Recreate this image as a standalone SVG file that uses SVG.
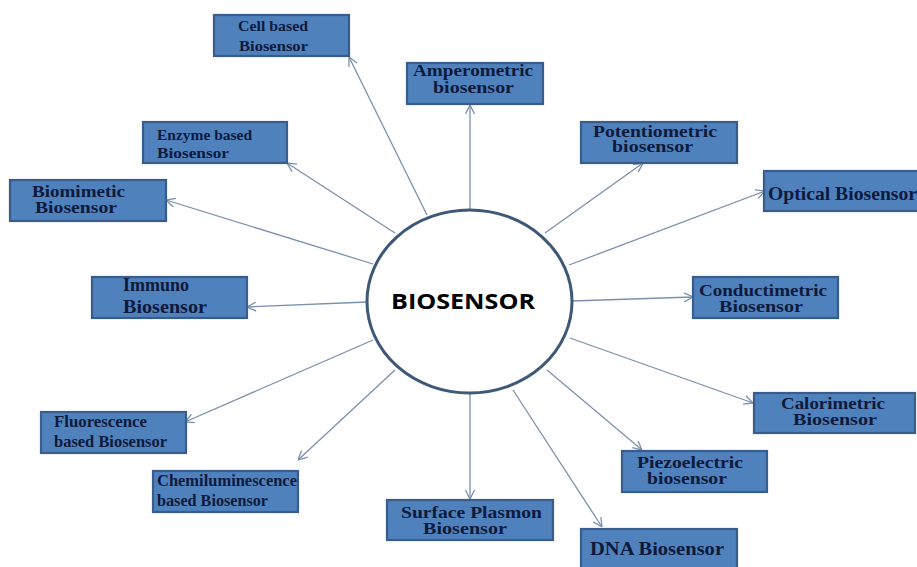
<svg xmlns="http://www.w3.org/2000/svg" width="917" height="567" viewBox="0 0 917 567">
<style>
.box{fill:#4f81bd;stroke:#385d8a;stroke-width:2.2}
.t{font-family:"Liberation Serif","Times New Roman",serif;font-weight:bold;fill:#0e1a3c}
.c{stroke:#7a90ae;stroke-width:1.3;fill:none}
</style>
<defs>
<marker id="ah" markerUnits="userSpaceOnUse" viewBox="0 0 10 10" markerWidth="10" markerHeight="10" refX="10" refY="5" orient="auto">
<path d="M1,0.5 L10,5 L1,9.5" fill="none" stroke="#7a90ae" stroke-width="1.3"/>
</marker>
</defs>
<rect width="917" height="567" fill="#ffffff"/>
<g id="connectors" class="c" marker-end="url(#ah)">
<line x1="427" y1="215" x2="349" y2="57"/>
<line x1="470" y1="210" x2="470" y2="105"/>
<line x1="545" y1="233" x2="643" y2="163"/>
<line x1="569" y1="265" x2="765" y2="191"/>
<line x1="572" y1="301" x2="693" y2="297"/>
<line x1="570" y1="338" x2="753" y2="403"/>
<line x1="547" y1="370" x2="642" y2="450"/>
<line x1="513" y1="390" x2="602" y2="527"/>
<line x1="470" y1="393" x2="470" y2="499"/>
<line x1="395" y1="370" x2="298" y2="460"/>
<line x1="373" y1="340" x2="185" y2="422"/>
<line x1="367" y1="302" x2="247" y2="307"/>
<line x1="373" y1="264" x2="166" y2="200"/>
<line x1="395" y1="233" x2="287" y2="163"/>
</g>
<g id="center">
<ellipse cx="469.5" cy="301.5" rx="102.5" ry="91.5" fill="#ffffff" stroke="#3e5878" stroke-width="3"/>
<text x="391" y="309" font-family="'Open Sans','Liberation Sans',sans-serif" font-weight="bold" font-size="22" fill="#000" textLength="144" lengthAdjust="spacingAndGlyphs">BIOSENSOR</text>
</g>
<g id="cell">
<rect class="box" x="214" y="15" width="135" height="41"/>
<text class="t" x="238" y="31" font-size="15" textLength="70" lengthAdjust="spacingAndGlyphs">Cell based</text>
<text class="t" x="239" y="51" font-size="15" textLength="69" lengthAdjust="spacingAndGlyphs">Biosensor</text>
</g>
<g id="amperometric">
<rect class="box" x="407" y="63" width="136" height="41"/>
<text class="t" x="413" y="76" font-size="16.5" textLength="120" lengthAdjust="spacingAndGlyphs">Amperometric</text>
<text class="t" x="433" y="93" font-size="16.5" textLength="81" lengthAdjust="spacingAndGlyphs">biosensor</text>
</g>
<g id="potentiometric">
<rect class="box" x="581" y="122" width="156" height="41"/>
<text class="t" x="593" y="137" font-size="16" textLength="124" lengthAdjust="spacingAndGlyphs">Potentiometric</text>
<text class="t" x="612" y="152" font-size="16" textLength="81" lengthAdjust="spacingAndGlyphs">biosensor</text>
</g>
<g id="enzyme">
<rect class="box" x="143" y="122" width="144" height="41"/>
<text class="t" x="157" y="140" font-size="14" textLength="95" lengthAdjust="spacingAndGlyphs">Enzyme based</text>
<text class="t" x="157" y="158" font-size="14" textLength="72" lengthAdjust="spacingAndGlyphs">Biosensor</text>
</g>
<g id="biomimetic">
<rect class="box" x="10" y="180" width="156" height="41"/>
<text class="t" x="32" y="197" font-size="17" textLength="93" lengthAdjust="spacingAndGlyphs">Biomimetic</text>
<text class="t" x="35" y="213" font-size="17" textLength="82" lengthAdjust="spacingAndGlyphs">Biosensor</text>
</g>
<g id="optical">
<rect class="box" x="764" y="171" width="160" height="40"/>
<text class="t" x="768" y="200" font-size="19" textLength="149" lengthAdjust="spacingAndGlyphs">Optical Biosensor</text>
</g>
<g id="immuno">
<rect class="box" x="92" y="277" width="155" height="41"/>
<text class="t" x="123" y="291" font-size="19" textLength="66" lengthAdjust="spacingAndGlyphs">Immuno</text>
<text class="t" x="123" y="313" font-size="19" textLength="84" lengthAdjust="spacingAndGlyphs">Biosensor</text>
</g>
<g id="conductimetric">
<rect class="box" x="693" y="277" width="145" height="41"/>
<text class="t" x="699" y="296" font-size="17" textLength="128" lengthAdjust="spacingAndGlyphs">Conductimetric</text>
<text class="t" x="719" y="312" font-size="17" textLength="84" lengthAdjust="spacingAndGlyphs">Biosensor</text>
</g>
<g id="calorimetric">
<rect class="box" x="754" y="393" width="161" height="40"/>
<text class="t" x="781" y="409" font-size="17" textLength="104" lengthAdjust="spacingAndGlyphs">Calorimetric</text>
<text class="t" x="793" y="425" font-size="17" textLength="84" lengthAdjust="spacingAndGlyphs">Biosensor</text>
</g>
<g id="fluorescence">
<rect class="box" x="41" y="412" width="145" height="41"/>
<text class="t" x="54" y="427" font-size="16" textLength="93" lengthAdjust="spacingAndGlyphs">Fluorescence</text>
<text class="t" x="54" y="447" font-size="16" textLength="113" lengthAdjust="spacingAndGlyphs">based Biosensor</text>
</g>
<g id="chemiluminescence">
<rect class="box" x="153" y="471" width="145" height="41"/>
<text class="t" x="157" y="486" font-size="16" textLength="140" lengthAdjust="spacingAndGlyphs">Chemiluminescence</text>
<text class="t" x="157" y="506" font-size="16" textLength="111" lengthAdjust="spacingAndGlyphs">based Biosensor</text>
</g>
<g id="piezoelectric">
<rect class="box" x="622" y="451" width="145" height="41"/>
<text class="t" x="637" y="468" font-size="17" textLength="106" lengthAdjust="spacingAndGlyphs">Piezoelectric</text>
<text class="t" x="647" y="484" font-size="17" textLength="80" lengthAdjust="spacingAndGlyphs">biosensor</text>
</g>
<g id="surface-plasmon">
<rect class="box" x="387" y="500" width="166" height="40"/>
<text class="t" x="401" y="518" font-size="17" textLength="141" lengthAdjust="spacingAndGlyphs">Surface Plasmon</text>
<text class="t" x="423" y="534" font-size="17" textLength="84" lengthAdjust="spacingAndGlyphs">Biosensor</text>
</g>
<g id="dna">
<rect class="box" x="581" y="529" width="156" height="50"/>
<text class="t" x="590" y="555" font-size="19.5" textLength="134" lengthAdjust="spacingAndGlyphs">DNA Biosensor</text>
</g>
</svg>
